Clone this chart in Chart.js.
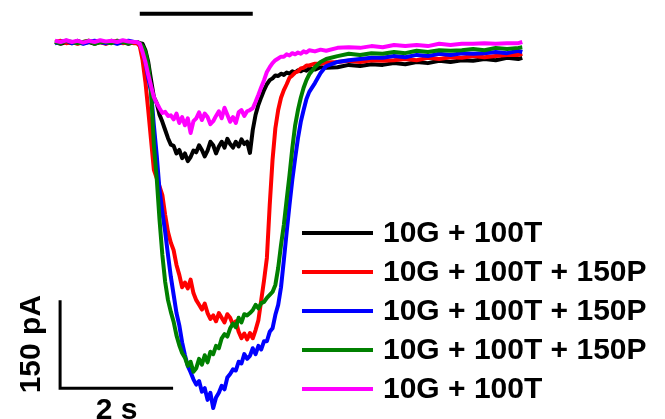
<!DOCTYPE html>
<html>
<head>
<meta charset="utf-8">
<script src="https://cdn.jsdelivr.net/npm/chart.js@4"></script>
<style>
  html, body { margin: 0; padding: 0; background: #fff; }
  #wrap { width: 665px; height: 419px; }
</style>
</head>
<body>
<div id="wrap"><canvas id="myChart" width="665" height="419"></canvas></div>
<script>
// time (s) and current (pA)
const times = [0, 0.1, 0.2, 0.3, 0.4, 0.5, 0.6, 0.7, 0.8, 0.9, 1.0, 1.1, 1.2, 1.3, 1.4,
    1.45, 1.5, 1.55, 1.6, 1.65, 1.7, 1.75, 1.8, 1.85, 1.9, 1.95, 2.0,
    2.05, 2.1, 2.15, 2.2, 2.25, 2.3, 2.35, 2.4, 2.45, 2.5, 2.55, 2.6, 2.65, 2.7,
    2.75, 2.8, 2.85, 2.9, 2.95, 3.0, 3.05, 3.1, 3.15, 3.2, 3.25, 3.3, 3.35, 3.4,
    3.45, 3.5, 3.55, 3.6, 3.65, 3.7, 3.75, 3.8, 3.85, 3.9, 3.95, 4.0, 4.05, 4.1, 4.15, 4.2, 4.25, 4.3, 4.35, 4.4, 4.45, 4.5, 4.6, 4.7, 4.8,
    5.0, 5.2, 5.4, 5.6, 5.8, 6.0, 6.2, 6.4, 6.6, 6.8, 7.0, 7.2, 7.4, 7.6, 7.8, 8.0, 8.2, 8.27];

const black = [0, -3, 0, -2, 2, -2, 0, -3, 0, -2, 2, -2, 0, -3, 0,
    0, -2, -3, -14, -34, -65, -94, -104, -124, -136, -150, -164,
    -175, -177, -190, -184, -198, -190, -203, -196, -185, -188, -176, -184, -195, -185,
    -170, -176, -190, -178, -170, -180, -165, -174, -180, -170, -178, -166, -174, -170,
    -189, -150, -124, -107, -94, -82, -72, -65, -62, -57, -58, -54, -56, -52, -54, -50, -52, -48, -50, -47, -49, -45, -47, -43, -44,
    -43, -39, -41, -38, -39, -36, -38, -34, -36, -32, -34, -31, -32, -29, -31, -27, -29, -27];

const red = [0, 2, -2, 0, -3, 0, 2, -2, 0, -3, 0, 2, -2, 0, -2,
    -2, -7, -31, -68, -116, -167, -218, -232, -246, -261, -295, -324,
    -342, -355, -380, -397, -418, -410, -420, -405, -428, -440, -448, -456, -446, -462,
    -472, -466, -476, -462, -470, -478, -464, -470, -482, -476, -494, -505, -497, -507,
    -496, -505, -491, -474, -440, -406, -368, -278, -201, -147, -116, -95, -82, -72, -61, -57, -52, -50, -45, -44, -40, -40, -37, -37, -35,
    -34, -32, -34, -31, -32, -31, -29, -31, -27, -29, -26, -27, -24, -26, -24, -22, -22, -20];

const blue = [-2, 0, 2, -2, 0, -3, 0, 2, 0, -2, 0, -3, 0, 2, 0,
    0, -3, -14, -34, -61, -85, -142, -193, -252, -290, -324, -363,
    -400, -431, -462, -483, -512, -534, -552, -563, -575, -584, -578, -596, -590, -610,
    -598, -624, -606, -598, -586, -592, -572, -566, -558, -560, -545, -548, -532, -540,
    -535, -522, -532, -518, -524, -510, -510, -494, -488, -465, -448, -418, -372, -324, -278, -235, -198, -164, -136, -116, -97, -85, -70, -53, -41,
    -34, -31, -29, -27, -27, -24, -26, -22, -24, -20, -22, -19, -20, -19, -17, -19, -15, -17];

const green = [0, -2, 2, 0, -2, 0, 2, -3, 0, 0, -2, 2, 0, -2, 0,
    0, -2, -7, -17, -39, -82, -176, -232, -303, -363, -409, -440,
    -460, -477, -500, -517, -530, -538, -552, -545, -562, -556, -540, -550, -534, -546,
    -528, -532, -518, -522, -505, -498, -502, -488, -480, -486, -470, -478, -464, -466,
    -462, -457, -448, -454, -445, -443, -436, -431, -426, -414, -385, -346, -312, -269, -227, -181, -142, -116, -95, -78, -65, -55, -43, -34, -29,
    -24, -20, -22, -19, -20, -17, -19, -15, -17, -14, -15, -14, -12, -14, -10, -12, -10, -9];

const magenta = [2, 0, 3, 0, 2, -1, 2, 0, 3, 1, 2, 0, 3, 1, 0,
    0, -3, -17, -34, -56, -75, -94, -104, -113, -121, -119, -126,
    -125, -132, -122, -138, -128, -142, -130, -155, -135, -130, -120, -133, -122, -128,
    -140, -135, -126, -118, -130, -112, -124, -136, -128, -138, -120, -116, -126, -118,
    -116, -113, -102, -90, -77, -65, -51, -43, -36, -31, -28, -25, -25, -21, -23, -19, -21, -18, -20, -16, -18, -14, -16, -13, -15,
    -10, -9, -10, -7, -9, -5, -7, -5, -7, -3, -5, -3, -3, -2, -3, -2, -2, 0];

const labels = ["10G + 100T", "10G + 100T + 150P", "10G + 100T + 150P", "10G + 100T + 150P", "10G + 100T"];
const colors = ["#000000", "#ff0000", "#0000ff", "#008000", "#ff00ff"];

// stimulus bar (s, pA) and scale bars
const stimStart = 1.5, stimEnd = 3.5, stimLevel = 48;
const barT0 = 0.09, barI0 = -590, barT = 2, barI = 150;

const series = [black, red, blue, green, magenta];
const toPoints = (vals) => vals.map((v, i) => ({ x: times[i], y: v }));

let datasets = series.map((s, i) => ({
    label: labels[i],
    data: toPoints(s),
    borderColor: colors[i],
    borderWidth: 4,
    borderJoinStyle: "round",
    pointRadius: 0,
    tension: 0,
    order: 5 - i
}));
datasets.push({
    label: "stim",
    data: [{ x: stimStart, y: stimLevel }, { x: stimEnd, y: stimLevel }],
    borderColor: "#000", borderWidth: 4, pointRadius: 0, order: 10
});
datasets.push({
    label: "scale",
    data: [{ x: barT0, y: barI0 + barI }, { x: barT0, y: barI0 }, { x: barT0 + barT, y: barI0 }],
    borderColor: "#000", borderWidth: 3, pointRadius: 0, order: 10
});

const textPlugin = {
    id: "texts",
    afterDraw(chart) {
        const ctx = chart.ctx;
        const xs = chart.scales.x, ys = chart.scales.y;
        ctx.save();
        ctx.fillStyle = "#000";
        ctx.font = "bold 30px 'Liberation Sans', Arial, sans-serif";
        // scale bar labels
        ctx.textAlign = "center";
        ctx.textBaseline = "alphabetic";
        ctx.fillText("2 s", xs.getPixelForValue(barT0 + barT / 2), ys.getPixelForValue(barI0) + 31);
        ctx.save();
        ctx.translate(xs.getPixelForValue(barT0) - 20, ys.getPixelForValue(barI0 + barI / 2));
        ctx.rotate(-Math.PI / 2);
        ctx.fillText("150 pA", 0, 0);
        ctx.restore();
        // legend
        ctx.textAlign = "left";
        ctx.textBaseline = "middle";
        labels.forEach((lab, i) => {
            const y = 233 + i * 39;
            ctx.strokeStyle = colors[i];
            ctx.lineWidth = 4;
            ctx.beginPath();
            ctx.moveTo(302, y);
            ctx.lineTo(373, y);
            ctx.stroke();
            ctx.fillText(lab, 383, y + 1);
        });
        ctx.restore();
    }
};

const myChart = new Chart(document.getElementById("myChart"), {
    type: "line",
    data: { datasets: datasets },
    options: {
        responsive: false,
        animation: false,
        devicePixelRatio: 1,
        layout: { padding: 0 },
        plugins: { legend: { display: false }, tooltip: { enabled: false } },
        scales: {
            x: { type: "linear", min: -0.9735, max: 10.796, display: false },
            y: { type: "linear", min: -642.6, max: 71.6, display: false }
        }
    },
    plugins: [textPlugin]
});
</script>
</body>
</html>
